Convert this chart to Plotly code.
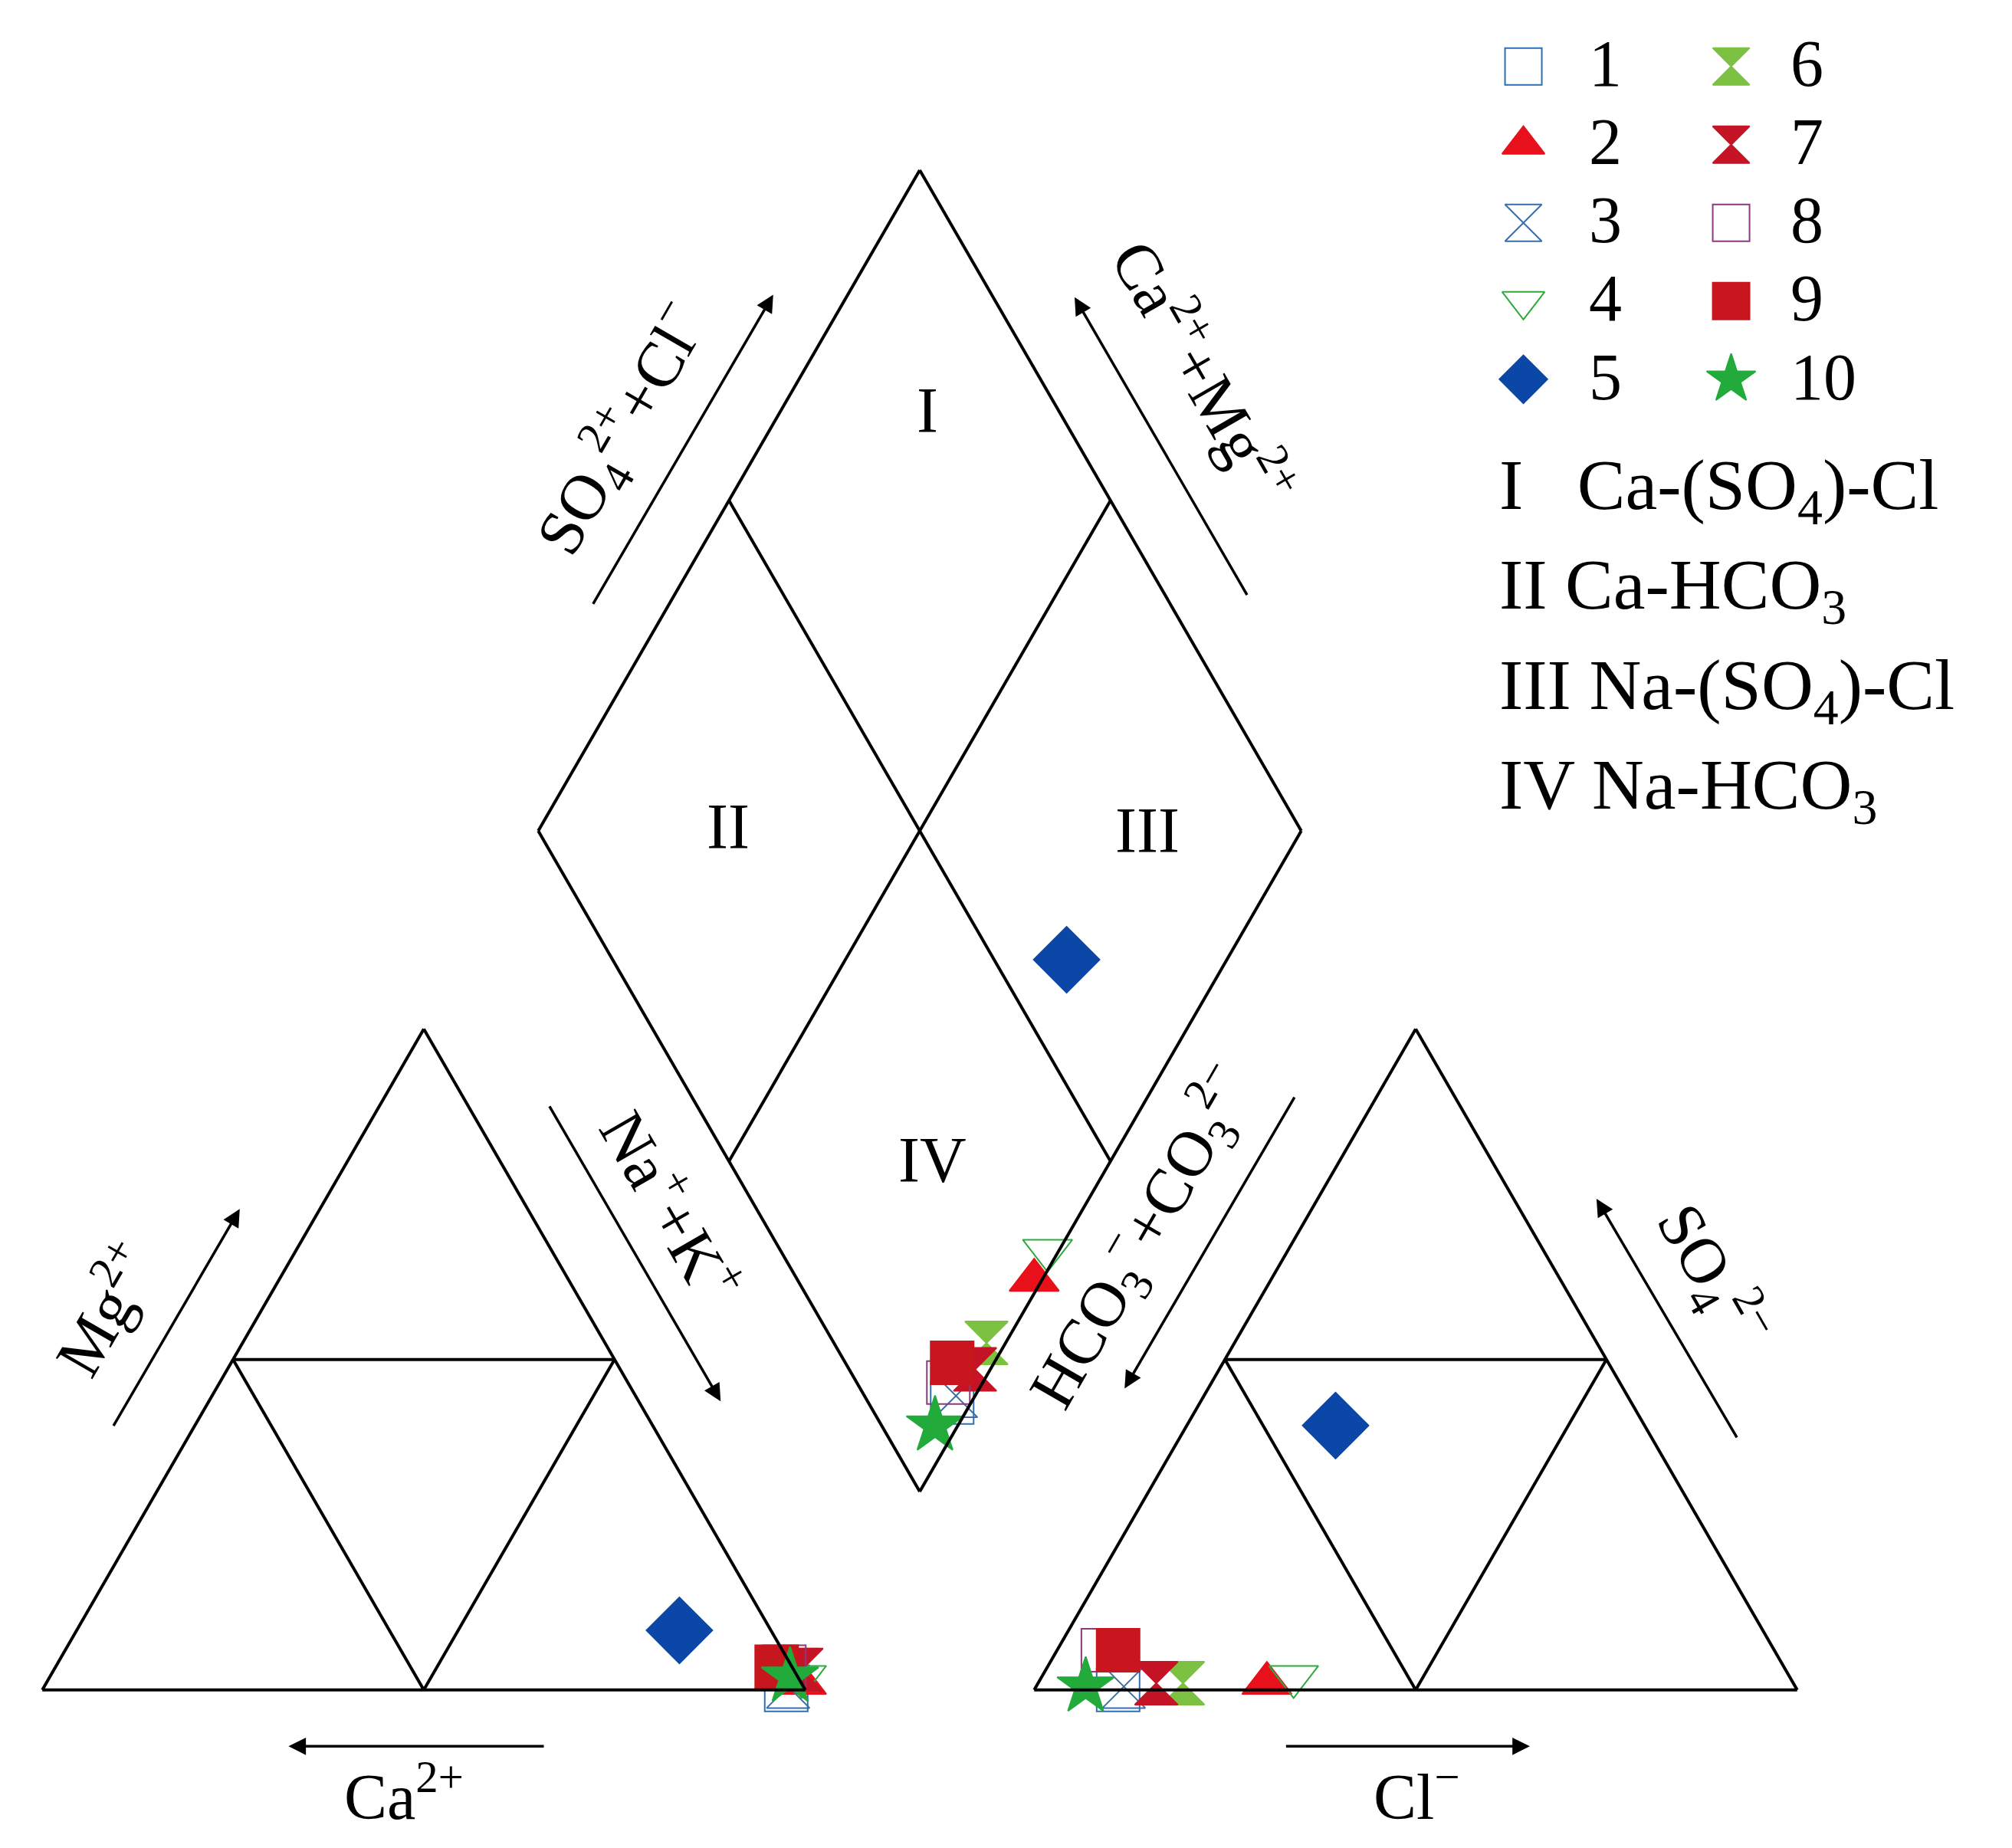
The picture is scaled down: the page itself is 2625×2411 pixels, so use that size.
import numpy as np
import plotly.graph_objects as go

# sample composition (fractions of meq)
samples = ["1", "2", "3", "4", "5", "6", "7", "8", "9", "10"]
mg = [0.00, 0.01, 0.005, 0.02, 0.09, 0.03, 0.03, 0.035, 0.035, 0.02]
na_k = [0.975, 0.99, 0.975, 0.985, 0.79, 0.975, 0.98, 0.955, 0.945, 0.97]
so4 = [0.00, 0.01, 0.005, 0.02, 0.40, 0.01, 0.01, 0.06, 0.06, 0.005]
cl = [0.11, 0.30, 0.115, 0.33, 0.195, 0.19, 0.155, 0.06, 0.08, 0.065]

symbols = ["square-open", "triangle-up", "hourglass-open", "triangle-down-open", "diamond",
           "hourglass", "hourglass", "square-open", "square", "star"]
colors = ["#2e6fb0", "#e8101a", "#3a6ea8", "#2eaa3c", "#0b47a6",
          "#7cc142", "#c41425", "#8a3a7a", "#c8161e", "#22aa3a"]
types = ["I   Ca-(SO<sub>4</sub>)-Cl", "II Ca-HCO<sub>3</sub>",
         "III Na-(SO<sub>4</sub>)-Cl", "IV Na-HCO<sub>3</sub>"]

S3 = np.sqrt(3) / 2
GAP = 1.3
B = (1.15, 0.15 * np.sqrt(3))
FONT = "Liberation Serif"


def px(xd, yd):
    # position helper from reference layout pixels to diagram units
    return (xd - 33) / 595, (1318 - yd) / 595


def cation_xy(m, n):
    return n + m / 2, m * S3


def anion_xy(s, l):
    return GAP + l + s / 2, s * S3


def diamond_xy(n, a):
    return B[0] - 0.5 * (1 - n) + 0.5 * a, B[1] + S3 * (1 - n) + S3 * a


fig = go.Figure()
lw = dict(color="black", width=4)


def seg(p, q):
    fig.add_shape(type="line", x0=p[0], y0=p[1], x1=q[0], y1=q[1], line=lw)


# triangles
for ox in [0, GAP]:
    a, b, c = (ox, 0), (ox + 1, 0), (ox + 0.5, S3)
    seg(a, b); seg(b, c); seg(c, a)
    seg((ox + 0.25, S3 / 2), (ox + 0.75, S3 / 2))
    seg((ox + 0.5, 0), (ox + 0.25, S3 / 2))
    seg((ox + 0.5, 0), (ox + 0.75, S3 / 2))

# diamond
bot = diamond_xy(1, 0); lft = diamond_xy(0, 0); rgt = diamond_xy(1, 1); top = diamond_xy(0, 1)
seg(bot, lft); seg(lft, top); seg(top, rgt); seg(rgt, bot)
seg(diamond_xy(0.5, 0), diamond_xy(0.5, 1))
seg(diamond_xy(0, 0.5), diamond_xy(1, 0.5))

# data points
for i, name in enumerate(samples):
    pts = [cation_xy(mg[i], na_k[i]), anion_xy(so4[i], cl[i]),
           diamond_xy(na_k[i], so4[i] + cl[i])]
    size = 66 if symbols[i] == "diamond" else 56
    fig.add_trace(go.Scatter(
        x=[p[0] for p in pts], y=[p[1] for p in pts], mode="markers", name=name,
        marker=dict(symbol=symbols[i], size=size, color=colors[i],
                    line=dict(width=2, color=colors[i])),
        showlegend=False))

# legend drawn by hand
for i, name in enumerate(samples):
    col, row = divmod(i, 5)
    mx, my = px(1188 + col * 162, 52 + row * 61)
    fig.add_trace(go.Scatter(
        x=[mx], y=[my], mode="markers",
        marker=dict(symbol=symbols[i], size=48, color=colors[i],
                    line=dict(width=2, color=colors[i])), showlegend=False))
    tx, ty = px(1238 + col * 157, 50 + row * 61)
    fig.add_annotation(x=tx, y=ty, text=name, showarrow=False, xanchor="left",
                       font=dict(family=FONT, size=86, color="black"))
for j, t in enumerate(types):
    tx, ty = px(1168, 382 + j * 78)
    fig.add_annotation(x=tx, y=ty, text=t, showarrow=False, xanchor="left",
                       font=dict(family=FONT, size=94, color="black"))

# field numerals
for t, (xd, yd) in zip(["I", "II", "III", "IV"], [(723, 320), (568, 645), (895, 648), (727, 905)]):
    x, y = px(xd, yd)
    fig.add_annotation(x=x, y=y, text=t, showarrow=False,
                       font=dict(family=FONT, size=84, color="black"))

# axis labels
labels = [
    ("SO<sub>4</sub><sup>2+</sup>+Cl<sup>−</sup>", 485, 335, -60),
    ("Ca<sup>2+</sup>+Mg<sup>2+</sup>", 940, 290, 60),
    ("Na<sup>+</sup>+K<sup>+</sup>", 525, 940, 60),
    ("HCO<sub>3</sub><sup>−</sup>+CO<sub>3</sub><sup>2−</sup>", 890, 965, -60),
    ("Mg<sup>2+</sup>", 80, 1020, -60),
    ("SO<sub>4</sub><sup>2−</sup>", 1335, 995, 60),
    ("Ca<sup>2+</sup>", 315, 1398, 0),
    ("Cl<sup>−</sup>", 1105, 1398, 0),
]
for t, xd, yd, ang in labels:
    x, y = px(xd, yd)
    fig.add_annotation(x=x, y=y, text=t, showarrow=False, textangle=ang,
                       font=dict(family=FONT, size=84, color="black"))

# arrows
arrows = [((462, 472), (603, 230)), ((973, 465), (838, 232)), ((428, 862), (562, 1093)),
          ((1010, 855), (877, 1083)), ((88, 1113), (187, 943)), ((1355, 1122), (1245, 935)),
          ((425, 1362), (225, 1362)), ((1002, 1362), (1193, 1362))]
for (s, e) in arrows:
    sx, sy = px(*s); ex, ey = px(*e)
    fig.add_annotation(x=ex, y=ey, ax=sx, ay=sy, xref="x", yref="y", axref="x", ayref="y",
                       text="", showarrow=True, arrowhead=2, arrowsize=1.3, arrowwidth=3.5,
                       arrowcolor="black")

x0, _ = px(4.8, 0); x1, _ = px(4.8 + 1569, 0)
_, y1 = px(0, 5); _, y0 = px(0, 5 + 1569 * 2411 / 2625)
fig.update_layout(
    width=2625, height=2411, margin=dict(l=0, r=0, t=0, b=0),
    plot_bgcolor="white", paper_bgcolor="white",
    xaxis=dict(range=[x0, x1], visible=False, fixedrange=True),
    yaxis=dict(range=[y0, y1], visible=False, fixedrange=True),
)
fig.write_html("out.html")
